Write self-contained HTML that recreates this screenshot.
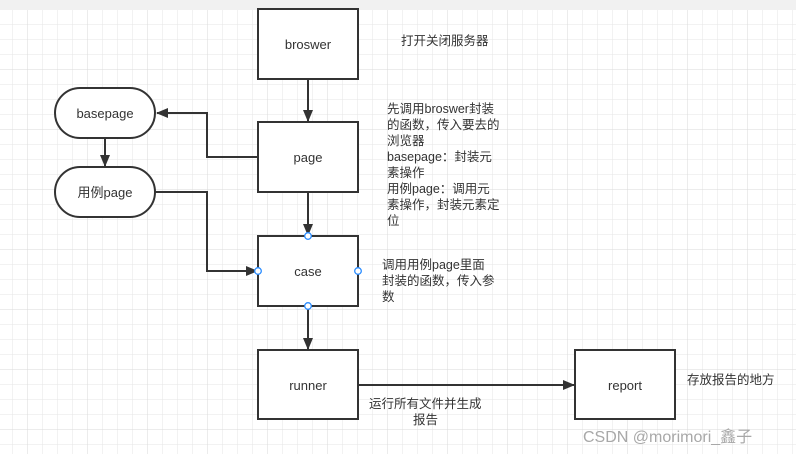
<!DOCTYPE html>
<html><head><meta charset="utf-8"><style>
body{margin:0;width:796px;height:454px;overflow:hidden;background:#fff;font-family:"Liberation Sans","Noto Sans CJK SC",sans-serif;}
</style></head><body>
<svg width="796" height="454" xmlns="http://www.w3.org/2000/svg" style="position:absolute;left:0;top:0">
<defs>
<pattern id="g" x="-2.5" y="10" width="15" height="15" patternUnits="userSpaceOnUse">
<path d="M15 0V15M0 15H15" stroke="#e6e6e6" stroke-width="1" fill="none"/></pattern>
<pattern id="G" x="-32.5" y="10" width="60" height="60" patternUnits="userSpaceOnUse">
<path d="M60 0V60M0 60H60" stroke="#dadada" stroke-width="1" fill="none"/></pattern>
<marker id="a" markerWidth="12" markerHeight="10" refX="11" refY="5" orient="auto" markerUnits="userSpaceOnUse"><path d="M0 0L12 5L0 10z" fill="#333"/></marker>
</defs>
<rect x="0" y="10" width="796" height="444" fill="url(#g)"/>
<rect x="0" y="10" width="796" height="444" fill="url(#G)"/>
<rect x="0" y="0" width="796" height="10" fill="#f1f1f1"/>
<g fill="#fff" stroke="#333" stroke-width="2">
<rect x="258" y="9" width="100" height="70"/>
<rect x="258" y="122" width="100" height="70"/>
<rect x="258" y="236" width="100" height="70"/>
<rect x="258" y="350" width="100" height="69"/>
<rect x="575" y="350" width="100" height="69"/>
<rect x="55" y="88" width="100" height="50" rx="25"/>
<rect x="55" y="167" width="100" height="50" rx="25"/>
</g>
<g fill="none" stroke="#333" stroke-width="2">
<path d="M308 79V121" marker-end="url(#a)"/>
<path d="M258 157H207V113H157" marker-end="url(#a)"/>
<path d="M105 138V166" marker-end="url(#a)"/>
<path d="M155 192H207V271H257" marker-end="url(#a)"/>
<path d="M308 192V235" marker-end="url(#a)"/>
<path d="M308 306V349" marker-end="url(#a)"/>
<path d="M358 385H574" marker-end="url(#a)"/>
</g>
<g fill="#fff" stroke="#2a8cff" stroke-width="1.3">
<circle cx="308" cy="236" r="3.3"/><circle cx="258" cy="271" r="3.3"/><circle cx="358" cy="271" r="3.3"/><circle cx="308" cy="306" r="3.3"/>
</g>
<g font-size="13" fill="#333" text-anchor="middle">
<text x="308" y="49">broswer</text>
<text x="308" y="162">page</text>
<text x="308" y="276">case</text>
<text x="308" y="390">runner</text>
<text x="625" y="390">report</text>
<text x="105" y="118">basepage</text>
<text x="105" y="197">用例page</text>
</g>
<g font-size="12.5" fill="#333">
<text x="401" y="45">打开关闭服务器</text>
<text x="387" y="113">先调用broswer封装</text>
<text x="387" y="129">的函数，传入要去的</text>
<text x="387" y="145">浏览器</text>
<text x="387" y="161">basepage：封装元</text>
<text x="387" y="177">素操作</text>
<text x="387" y="193">用例page：调用元</text>
<text x="387" y="209">素操作，封装元素定</text>
<text x="387" y="225">位</text>
<text x="382" y="269">调用用例page里面</text>
<text x="382" y="285">封装的函数，传入参</text>
<text x="382" y="301">数</text>
<text x="687" y="384">存放报告的地方</text>
<text x="369" y="408">运行所有文件并生成</text>
<text x="413" y="424">报告</text>
</g>
<text x="583" y="442" font-size="16" fill="#a8a8a8">CSDN @morimori_鑫子</text>
</svg>
</body></html>
